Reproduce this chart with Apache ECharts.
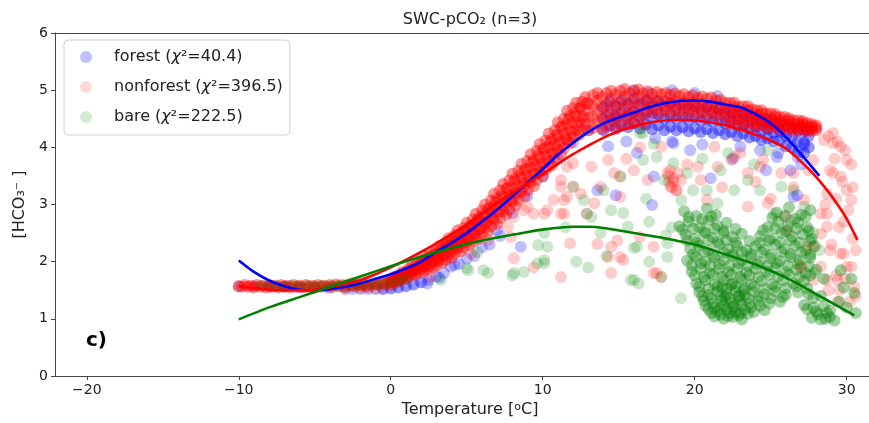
<!DOCTYPE html>
<html>
<head>
<meta charset="utf-8">
<script src="https://cdn.jsdelivr.net/npm/echarts@6/dist/echarts.min.js"></script>
<style>html,body{margin:0;padding:0;background:#fff;}#c{width:869px;height:423px;}</style>
</head>
<body>
<div id="c"></div>
<script>
// ---------- data ----------
const seriesNames = ['forest (χ²=40.4)', 'nonforest (χ²=396.5)', 'bare (χ²=222.5)'];
const xTicks = [-20, -10, 0, 10, 20, 30];
const yTicks = [0, 1, 2, 3, 4, 5, 6];

// forest: dense part of the cloud
const forestCore = [
[-0.5,1.52],[0,1.53],[0.5,1.55],[1,1.57],[1.5,1.6],[2,1.64],
[14,4.3],[14,4.5],[14,4.7],[14.4,4.38],[14.4,4.58],[14.4,4.8],[14.8,4.32],[14.8,4.52],[14.8,4.72],[15.2,4.4],[15.2,4.6],[15.2,4.82],
[15.6,4.35],[15.6,4.55],[15.6,4.75],[16,4.42],[16,4.62],[16,4.85],[16.4,4.33],[16.4,4.53],[16.4,4.75],[16.8,4.4],[16.8,4.6],[16.8,4.82],
[17.2,4.32],[17.2,4.52],[17.2,4.72],[17.6,4.38],[17.6,4.58],[17.6,4.8],[18,4.3],[18,4.5],[18,4.72],[18.4,4.36],[18.4,4.56],[18.4,4.78],
[18.8,4.3],[18.8,4.5],[18.8,4.7],[19.2,4.35],[19.2,4.55],[19.2,4.76],[19.6,4.28],[19.6,4.48],[19.6,4.68],[20,4.33],[20,4.53],[20,4.73],
[20.4,4.27],[20.4,4.47],[20.4,4.67],[20.8,4.32],[20.8,4.5],[20.8,4.7],[21.2,4.25],[21.2,4.45],[21.2,4.64],[21.6,4.3],[21.6,4.48],[21.6,4.66],
[22,4.23],[22,4.42],[22,4.6],[22.4,4.27],[22.4,4.45],[22.4,4.62],[22.8,4.2],[22.8,4.38],[22.8,4.56],[23.2,4.24],[23.2,4.4],[23.2,4.58],
[23.6,4.17],[23.6,4.34],[23.6,4.52],[24,4.2],[24,4.36],[24,4.52],[24.4,4.13],[24.4,4.3],[24.4,4.47],[24.8,4.16],[24.8,4.32],[24.8,4.47],
[25.2,4.1],[25.2,4.26],[25.2,4.42],[25.6,4.12],[25.6,4.27],[25.6,4.42],[26,4.02],[26,4.2],[26,4.38],[26.4,4.0],[26.4,4.18],[26.4,4.35],
[26.8,3.92],[26.8,4.1],[26.8,4.3],[27.2,3.9],[27.2,4.08],[27.2,4.28],[27.5,4.0],[27.5,4.2]
];
// forest: isolated / hidden points
const forestScatter = [
[-10,1.57],[-9,1.57],[-8,1.56],[-7,1.56],[-6,1.55],[-5,1.55],[-4,1.54],[-3,1.53],[-2.5,1.52],[-2,1.53],[-1.5,1.52],[-1,1.52],
[2.5,1.68],[3,1.74],[3.5,1.8],[4.5,1.96],[5,2.05],[6,2.25],[7,2.55],[8,2.85],[9,3.15],[10,3.48],[11,3.8],[12,4.08],[13,4.3],
[4.2,1.94],[3.95,1.91],[8.55,2.26],[13.6,3.25],[14.8,3.16],[14.3,4.02],[16.2,3.9],[17.4,4.16],[17.2,2.99],[17.3,3.49],[18.5,4.1],[18.6,4.07],[19.7,3.95],[21.05,3.46],[26.75,3.16],[26.5,3.13],[26.3,3.6],[26.75,3.83],[27.2,4.04],[23,4.01],[24.3,3.95],[25.4,3.83],[27,3.7],[24.7,3.6],[22.5,3.8],[25.5,3.9],[20.5,4.05],[15.5,4.1],[17,4.95],[18.5,5.0],[20,4.95],[21.5,4.9],[16,5.0],
[5.5,2.1],[6.5,2.3],[7.2,2.45],[3.2,1.72],[2.4,1.62]
];

// nonforest: dense part of the cloud
const nonforestCore = [
[-10,1.57],[-9.8,1.56],[-9.6,1.59],[-9.4,1.56],[-9.2,1.58],[-9,1.55],[-8.8,1.59],[-8.6,1.56],[-8.4,1.58],[-8.2,1.55],[-8,1.59],[-7.8,1.56],[-7.6,1.58],[-7.4,1.55],[-7.2,1.59],[-7,1.56],[-6.8,1.58],[-6.6,1.55],[-6.4,1.59],[-6.2,1.56],[-6,1.58],[-5.8,1.55],[-5.6,1.59],[-5.4,1.56],[-5.2,1.58],[-5,1.55],[-4.8,1.59],[-4.6,1.56],[-4.4,1.58],[-4.2,1.56],[-4,1.59],[-3.8,1.56],[-3.6,1.6],[-3.4,1.57],[-3.2,1.59],[-3,1.56],[-2.8,1.6],[-2.6,1.58],[-2.4,1.57],[-2.2,1.61],[-2,1.58],[-1.8,1.6],[-1.6,1.57],[-1.4,1.61],[-1.2,1.59],[-1,1.62],[-0.8,1.6],[-0.6,1.63],[-0.4,1.61],[-0.2,1.64],
[0,1.61],[0,1.65],[0,1.69],[0.2,1.64],[0.2,1.69],[0.2,1.73],[0.4,1.64],[0.4,1.68],[0.4,1.73],[0.6,1.67],[0.6,1.72],[0.6,1.78],[0.8,1.71],[0.8,1.77],[0.8,1.82],
[1,1.7],[1,1.76],[1,1.82],[1.2,1.74],[1.2,1.81],[1.2,1.88],[1.4,1.78],[1.4,1.86],[1.4,1.93],[1.6,1.77],[1.6,1.84],[1.6,1.92],[1.8,1.8],[1.8,1.89],[1.8,1.98],
[2,1.86],[2,1.95],[2,2.04],[2.2,1.83],[2.2,1.92],[2.2,2.02],[2.4,1.87],[2.4,1.98],[2.4,2.09],[2.6,1.93],[2.6,2.05],[2.6,2.16],[2.8,1.9],[2.8,2.0],[2.8,2.12],
[3,1.94],[3,2.07],[3,2.2],[3.2,2.02],[3.2,2.15],[3.2,2.28],[3.4,1.98],[3.4,2.11],[3.4,2.24],[3.6,2.03],[3.6,2.18],[3.6,2.33],[3.8,2.11],[3.8,2.27],[3.8,2.41],
[4,2.07],[4,2.21],[4,2.36],[4.2,2.14],[4.2,2.3],[4.2,2.46],[4.4,2.23],[4.4,2.39],[4.4,2.55],[4.6,2.18],[4.6,2.33],[4.6,2.49],[4.8,2.25],[4.8,2.42],[4.8,2.59],
[5,2.34],[5,2.51],[5,2.68],[5.2,2.29],[5.2,2.45],[5.2,2.62],[5.4,2.36],[5.4,2.55],[5.4,2.74],[5.6,2.46],[5.6,2.66],[5.6,2.84],[5.8,2.4],[5.8,2.57],[5.8,2.76],
[6,2.48],[6,2.69],[6,2.9],[6.2,2.59],[6.2,2.8],[6.2,3.0],[6.4,2.52],[6.4,2.72],[6.4,2.92],[6.6,2.62],[6.6,2.85],[6.6,3.07],[6.8,2.73],[6.8,2.97],[6.8,3.19],
[7,2.66],[7,2.87],[7,3.1],[7.2,2.76],[7.2,3.0],[7.2,3.25],[7.4,2.88],[7.4,3.13],[7.4,3.36],[7.6,2.82],[7.6,3.04],[7.6,3.27],[7.8,2.91],[7.8,3.16],[7.8,3.42],
[8,3.05],[8,3.3],[8,3.54],[8.2,2.98],[8.2,3.2],[8.2,3.44],[8.4,3.08],[8.4,3.33],[8.4,3.59],[8.6,3.22],[8.6,3.47],[8.6,3.71],[8.8,3.14],[8.8,3.36],[8.8,3.6],
[9,3.25],[9,3.5],[9,3.76],[9.2,3.39],[9.2,3.64],[9.2,3.88],[9.4,3.32],[9.4,3.54],[9.4,3.78],[9.6,3.43],[9.6,3.68],[9.6,3.94],[9.8,3.57],[9.8,3.82],[9.8,4.06],
[10,3.5],[10,3.72],[10,3.96],[10.2,3.61],[10.2,3.86],[10.2,4.12],[10.4,3.75],[10.4,4.0],[10.4,4.24],[10.6,3.68],[10.6,3.9],[10.6,4.14],[10.8,3.79],[10.8,4.04],[10.8,4.3],
[11,3.95],[11,4.2],[11,4.44],[11.2,3.88],[11.2,4.1],[11.2,4.35],[11.4,3.99],[11.4,4.24],[11.4,4.5],[11.6,4.14],[11.6,4.4],[11.6,4.64],[11.8,4.08],[11.8,4.3],[11.8,4.55],
[12,4.18],[12,4.43],[12,4.69],[12.2,4.3],[12.2,4.55],[12.2,4.78],[12.4,4.22],[12.4,4.44],[12.4,4.68],[12.6,4.3],[12.6,4.55],[12.6,4.8],[12.8,4.4],[12.8,4.65],[12.8,4.88],
[13,4.3],[13,4.52],[13,4.76],
[0.1,1.66],[0.3,1.69],[0.5,1.71],[0.7,1.74],[0.9,1.77],[1.1,1.8],[1.3,1.83],[1.5,1.86],[1.7,1.88],[1.9,1.91],
[2.1,2.0],[2.3,1.93],[2.5,2.07],[2.7,1.98],[2.9,2.13],[3.1,2.04],[3.3,2.21],[3.5,2.1],[3.7,2.29],[3.9,2.17],[4.1,2.37],[4.3,2.25],[4.5,2.45],[4.7,2.32],[4.9,2.54],
[5.1,2.41],[5.3,2.63],[5.5,2.49],[5.7,2.73],[5.9,2.58],[6.1,2.83],[6.3,2.67],[6.5,2.94],[6.7,2.76],[6.9,3.05],[7.1,2.87],[7.3,3.16],[7.5,2.98],[7.7,3.29],[7.9,3.08],
[8.1,3.4],[8.3,3.19],[8.5,3.51],[8.7,3.31],[8.9,3.62],[9.1,3.42],[9.3,3.74],[9.5,3.54],[9.7,3.86],[9.9,3.66],[10.1,3.98],[10.3,3.78],[10.5,4.1],[10.7,3.9],[10.9,4.22],
[11.1,4.05],[11.3,4.37],[11.5,4.17],[11.7,4.49],[11.9,4.27],[12.1,4.59],[12.3,4.39],[12.5,4.7],[12.7,4.49],[12.9,4.78],
[13.3,4.34],[13.3,4.53],[13.3,4.72],[13.3,4.91],[13.6,4.44],[13.6,4.63],[13.6,4.82],[13.6,4.95],[13.9,4.32],[13.9,4.5],[13.9,4.69],[13.9,4.88],
[14.2,4.36],[14.2,4.56],[14.2,4.75],[14.2,4.95],[14.5,4.48],[14.5,4.67],[14.5,4.86],[14.5,4.99],[14.8,4.37],[14.8,4.55],[14.8,4.74],[14.8,4.93],
[15.1,4.41],[15.1,4.6],[15.1,4.79],[15.1,4.99],[15.4,4.52],[15.4,4.7],[15.4,4.89],[15.4,5.02],[15.7,4.4],[15.7,4.57],[15.7,4.76],[15.7,4.95],
[16,4.43],[16,4.62],[16,4.8],[16,4.99],[16.3,4.53],[16.3,4.71],[16.3,4.89],[16.3,5.01],[16.6,4.41],[16.6,4.58],[16.6,4.76],[16.6,4.94],
[16.9,4.65],[16.9,4.83],[16.9,4.98],[17.2,4.6],[17.2,4.77],[17.2,4.93],[17.5,4.65],[17.5,4.82],[17.5,4.97],[17.8,4.6],[17.8,4.76],[17.8,4.93],
[18.1,4.66],[18.1,4.81],[18.1,4.95],[18.4,4.6],[18.4,4.76],[18.4,4.91],[18.7,4.65],[18.7,4.81],[18.7,4.94],[19,4.6],[19,4.75],[19,4.9],
[19.3,4.65],[19.3,4.79],[19.3,4.93],[19.6,4.59],[19.6,4.74],[19.6,4.88],[19.9,4.64],[19.9,4.78],[19.9,4.91],[20.2,4.58],[20.2,4.72],[20.2,4.86],
[20.5,4.62],[20.5,4.76],[20.5,4.89],[20.8,4.57],[20.8,4.71],[20.8,4.85],[21.1,4.6],[21.1,4.74],[21.1,4.87],[21.4,4.55],[21.4,4.68],[21.4,4.82],
[21.7,4.58],[21.7,4.71],[21.7,4.83],[22,4.53],[22,4.65],[22,4.78],
[22.3,4.41],[22.3,4.53],[22.3,4.66],[22.3,4.78],[22.6,4.47],[22.6,4.59],[22.6,4.7],[22.6,4.78],[22.9,4.38],[22.9,4.49],[22.9,4.6],[22.9,4.71],
[23.2,4.39],[23.2,4.5],[23.2,4.61],[23.2,4.72],[23.5,4.44],[23.5,4.55],[23.5,4.65],[23.5,4.72],[23.8,4.36],[23.8,4.46],[23.8,4.56],[23.8,4.66],
[24.1,4.37],[24.1,4.46],[24.1,4.56],[24.1,4.65],[24.4,4.4],[24.4,4.5],[24.4,4.59],[24.4,4.65],[24.7,4.34],[24.7,4.42],[24.7,4.5],[24.7,4.59],
[25,4.34],[25,4.42],[25,4.51],[25,4.59],[25.3,4.37],[25.3,4.45],[25.3,4.53],[25.3,4.58],[25.6,4.31],[25.6,4.38],[25.6,4.46],[25.6,4.53],
[25.9,4.31],[25.9,4.38],[25.9,4.46],[25.9,4.53],[26.2,4.33],[26.2,4.4],[26.2,4.47],[26.2,4.51],[26.5,4.29],[26.5,4.35],[26.5,4.41],[26.5,4.47],
[26.8,4.29],[26.8,4.35],[26.8,4.41],[26.8,4.47],[27.1,4.32],[27.1,4.37],[27.1,4.42],[27.1,4.46],[27.4,4.28],[27.4,4.32],[27.4,4.37],[27.4,4.42],
[27.7,4.29],[27.7,4.33],[27.7,4.37],[27.7,4.41],[28,4.3],[28,4.34],[28,4.38]
];
// nonforest: isolated points
const nonforestScatter = [
[-3,1.52],[-2.5,1.63],[-2,1.52],[-1.5,1.55],[-1,1.54],[-0.5,1.56],[0,1.57],
[2.6,1.73],[5.3,2.14],[6.4,2.38],[7.7,2.61],[7.9,2.43],[8.1,2.78],[8.1,2.06],[9,2.96],[9.4,2.84],[9.4,1.9],[10.1,2.84],[10.7,3.08],[11.4,2.84],[11.6,3.14],[11.2,3.31],[11.2,1.73],[11.8,2.32],[12,3.72],[8.75,2.9],[10.3,2.9],[11.4,3.08],[12.5,3.19],[13.4,3.02],[13.8,3.31],[13.2,3.66],[14.3,3.78],[14.7,3.55],[11.6,3.66],[11.2,3.43],
[16,3.6],[16.9,3.43],[17.8,4.01],[18.2,3.55],[18.4,3.31],[19.1,3.43],[18.6,3.45],[18.8,3.25],[18.3,3.4],[18.3,3.5],[18.6,3.4],[18.9,3.55],[18.5,3.3],[18.8,3.25],[18.4,3.6],
[20.2,3.66],[20.8,3.08],[21.3,4.01],[22.4,3.78],[23.5,3.55],[24.5,3.78],[25.7,3.55],[27.2,3.08],[28.3,2.84],[28.7,3.19],[29.1,3.55],[29.6,4.01],[30,3.78],[30.3,3.08],[28.7,2.61],[29.6,2.14],[30,1.91],[30.5,1.56],[28.3,1.91],[27.8,2.26],[28.7,1.68],[29.3,1.76],[28.5,4.13],[29.1,4.25],
[14.5,1.8],[15.1,2.08],[14.9,2.37],[13.6,2.31],[17.5,1.8],[17.3,2.26],[12.9,2.84],[15.1,3.49],[12,3.31],[16.4,4],[15.5,3.8],[19.5,3.7],[21.8,3.3],[23,3.9],[24,3.4],[25,3.1],[26,2.8],[26.5,3.3],[27.5,3.6],[29.8,2.7],[30.4,2.4],[29,2.3],[30.2,1.3],[29.5,1.5],[27,1.9],
[14.3,2.08],[15.1,3.13],[17.8,1.73],[20.4,3.43],[21.5,3.66],[22.6,3.83],[24.3,3.66],[24.8,3.02],[23.5,2.96],[26.5,3.55],[27.8,3.78],[29.1,4.07],[29.6,3.49],[30,3.25],[28.7,2.84],[29.8,2.14],[30.3,1.91],[29.4,1.68],[27.8,1.68],[27,1.91],[27.4,2.26],[28.3,2.49],[26.1,2.55],[11.2,2.84],[14.5,2.26],[16.4,2.43],[17.3,1.8],[15.3,2.03],
[28.8,4.2],[29.4,4.1],[29.9,3.95],[30.3,3.7],[29.2,3.8],[28.9,3.6],[29.7,3.4],[30.4,3.3],[29.3,3.1],[28.6,3.0],[30.1,2.9],[29.5,2.6],[30.6,2.2],[28.9,2.2],[29.9,1.7],[30.6,1.4],[29.4,1.3],[28.8,1.5]
];

// bare: dense part of the cloud
const bareCore = [
[19.3,2.88],[20.1,2.8],[20.8,2.93],[21.4,2.82],[25.4,2.86],[26.2,2.95],[27,2.82],[27.6,2.9],
[19,2.62],[19.6,2.7],[20.3,2.6],[20.9,2.72],[21.5,2.63],[22.1,2.68],[24.8,2.6],[25.5,2.7],[26.1,2.62],[26.8,2.68],[27.4,2.6],
[19.4,2.47],[20,2.4],[20.7,2.5],[21.2,2.42],[21.9,2.5],[22.5,2.43],[23.1,2.49],[24.3,2.45],[25,2.4],[25.7,2.5],[26.4,2.44],[27.1,2.48],[27.7,2.4],
[19.7,2.22],[20.3,2.28],[20.9,2.2],[21.6,2.3],[22.2,2.22],[22.8,2.28],[23.4,2.2],[24,2.27],[24.6,2.21],[25.3,2.3],[25.9,2.22],[26.6,2.28],[27.3,2.2],[27.9,2.27],
[19.5,2.02],[20.1,2.08],[20.7,2],[21.3,2.07],[21.9,2.02],[22.5,2.1],[23.1,2.03],[23.7,2.08],[24.3,2],[25,2.06],[25.6,2.01],[26.3,2.08],[26.9,2.02],[27.6,2.07],
[19.8,1.83],[20.4,1.88],[21,1.8],[21.6,1.87],[22.2,1.82],[22.8,1.88],[23.4,1.81],[24,1.87],[24.7,1.83],[25.3,1.89],[26,1.82],[26.7,1.86],[27.3,1.8],[28,1.86],
[20.1,1.62],[20.7,1.68],[21.3,1.6],[21.9,1.67],[22.5,1.62],[23.1,1.69],[23.7,1.61],[24.4,1.66],[25.1,1.6],[25.8,1.67],[26.5,1.62],[27.2,1.66],
[20.3,1.47],[20.9,1.42],[21.5,1.48],[22.1,1.43],[22.7,1.48],[23.3,1.42],[23.9,1.47],[24.6,1.43],[25.3,1.48],[26,1.42],[26.8,1.46],[27.5,1.43],
[20.6,1.32],[21.2,1.27],[21.8,1.33],[22.4,1.28],[23,1.32],[23.6,1.27],[24.2,1.31],[24.9,1.27],[25.6,1.3],
[20.9,1.17],[21.5,1.13],[22.1,1.17],[22.7,1.12],[23.3,1.16],[23.9,1.12],[24.6,1.15],[27.4,1.17],[28,1.13],
[21.3,1.04],[21.9,1],[22.5,1.03],[23.1,0.99],[27.7,1.02],[28.3,0.99],[28.9,1.03],
[22,1.38],[22.6,1.22],[23.2,1.5],[21.8,1.55],[22.4,1.6],[23,1.1],[22.2,1.05],[21.7,1.2],[22.9,1.4],
[28.6,1],[29.2,0.97],[28.9,1.15],[29.5,1.3],[30,1.2],[30.5,1.45],[29.8,1.55],[30.3,1.7],[29.6,1.85],[30.6,1.1],[28.3,1.4],[28.5,1.7],
[19.6,2.78],[20.5,2.74],[21.1,2.79],[25.1,2.77],[25.9,2.8],[26.6,2.75],[27.3,2.79],
[19.2,2.56],[19.9,2.58],[20.6,2.53],[21.3,2.58],[21.9,2.54],[22.7,2.57],[24.5,2.55],[25.3,2.58],[26,2.53],[26.7,2.58],[27.5,2.54],
[19.5,2.37],[20.2,2.33],[20.9,2.38],[21.5,2.34],[22.1,2.37],[22.7,2.33],[23.6,2.36],[24.3,2.33],[24.9,2.37],[25.6,2.34],[26.3,2.38],[26.9,2.33],[27.6,2.36],
[19.9,2.13],[20.6,2.17],[21.2,2.12],[21.9,2.16],[22.5,2.13],[23.1,2.17],[23.7,2.13],[24.4,2.16],[25,2.12],[25.7,2.17],[26.3,2.13],[27,2.16],[27.6,2.12],
[19.8,1.94],[20.4,1.97],[21,1.93],[21.6,1.96],[22.3,1.93],[22.9,1.97],[23.5,1.93],[24.1,1.96],[24.8,1.93],[25.4,1.97],[26.1,1.93],[26.8,1.96],[27.5,1.92],
[20,1.76],[20.6,1.73],[21.2,1.77],[21.8,1.74],[22.4,1.77],[23,1.73],[23.6,1.76],[24.2,1.73],[24.9,1.77],[25.5,1.74],[26.2,1.77],[26.9,1.73],[27.6,1.76],
[20.3,1.56],[20.9,1.53],[21.5,1.57],[22.1,1.53],[22.7,1.56],[23.3,1.54],[23.9,1.57],[24.6,1.53],[25.3,1.56],[26,1.54],[26.7,1.57],[27.4,1.53],
[20.5,1.39],[21.1,1.36],[21.7,1.4],[22.3,1.36],[22.9,1.39],[23.5,1.36],[24.2,1.39],[25,1.36],[25.8,1.38],[27.8,1.36],
[20.7,1.23],[21.3,1.2],[21.9,1.24],[22.5,1.21],[23.1,1.24],[23.7,1.2],[24.3,1.23],[27.2,1.24],[27.8,1.2],[28.5,1.22],
[21.1,1.1],[21.7,1.07],[22.3,1.1],[22.9,1.06],[23.5,1.09],[28.1,1.08],[28.7,1.1]
];
// bare: isolated points
const bareScatter = [
[-8.5,1.58],[-8,1.57],[-7.5,1.58],[-7,1.57],[-6.5,1.58],[-6,1.57],[-5.5,1.58],[-5,1.57],[-4.5,1.58],[-4,1.57],[-3.5,1.58],[-3,1.58],[-2.5,1.59],[-2,1.59],[-1.5,1.6],[-1,1.61],[-0.5,1.62],[0,1.64],[0.5,1.66],[1,1.7],
[3.3,1.68],[5,1.89],[5.1,1.85],[5.7,2.17],[6.1,1.85],[6.4,1.8],[8,1.76],[8.1,1.8],[8.75,1.82],[9.65,1.97],[9.7,2.29],[10.1,1.97],[10.1,2.03],[10.1,2.5],[10.3,2.26],[12.9,2.84],[12,3.31],[15.1,3.49],[13.2,2.78],[15.3,2.85],[16,2.24],[16,1.68],[16.3,1.62],[15.8,1.68],[18.2,2.32],[18.1,2.46],[19.1,1.36],[16.4,4.25],[17.3,4.06],[16.6,4.25],
[12.7,3.08],[14,3.25],[15.6,2.61],[16.2,2.26],[18.2,2.08],[17.8,1.73],[14.5,2.9],[13.8,2.5],[17,2.7],[16.8,3.1],[11.5,2.6],[12.2,2],[13,1.9],[14.2,2.1],[17,2],[18.5,2.6],
[19.5,3.55],[19.9,3.25],[19.1,3.08],[20.8,3.25],[21.5,3.02],[22.6,3.25],[23.5,3.43],[24.3,3.25],[25.7,3.31],[26.5,3.25],[25.2,2.84],[26.3,2.72],[27.2,2.96],[18.6,3.72],[18,3.43],[17.5,3.83],[16.6,3.78],[20.5,3.8],[21.7,3.6],[22.2,3.9],[23.9,3.7],[24.8,3.95],[27.8,2.5],[28.2,2.2],[27.9,1.8]
];

// fitted curves
const forestFit = [[-10,2.02],[-9,1.82],[-8,1.67],[-7,1.57],[-6,1.51],[-5,1.5],[-4,1.52],[-3,1.56],[-2,1.62],[-1,1.7],[0,1.78],[1,1.88],[2,2.0],[3,2.17],[4,2.33],[5,2.5],[6,2.7],[7,2.91],[8,3.14],[9,3.38],[10,3.62],[11,3.87],[12,4.08],[13,4.27],[14,4.42],[15,4.52],[16,4.61],[17,4.7],[18,4.77],[19,4.81],[20,4.82],[21,4.8],[22,4.75],[23,4.7],[24,4.58],[25,4.42],[26,4.18],[27,3.88],[28.2,3.5]];
const nonforestFit = [[-10,1.57],[-9,1.54],[-8,1.51],[-7,1.5],[-6,1.5],[-5,1.51],[-4,1.55],[-3,1.61],[-2,1.68],[-1,1.78],[0,1.9],[1,2.03],[2,2.17],[3,2.32],[4,2.48],[5,2.65],[6,2.84],[7,3.03],[8,3.2],[9,3.37],[10,3.53],[11,3.71],[12,3.88],[13,4.03],[14,4.17],[15,4.28],[16,4.37],[17,4.43],[18,4.47],[19,4.48],[20,4.47],[21,4.44],[22,4.39],[23,4.31],[24,4.22],[25,4.12],[26,3.98],[27,3.75],[28,3.48],[29,3.15],[30,2.75],[30.7,2.38]];
const bareFit = [[-10,0.99],[-8,1.2],[-6,1.38],[-4,1.56],[-2,1.74],[0,1.92],[2,2.09],[4,2.24],[6,2.37],[8,2.47],[10,2.56],[12,2.61],[13,2.61],[14,2.59],[16,2.5],[18,2.41],[20,2.3],[22,2.13],[24,1.95],[26,1.72],[28,1.43],[30.5,1.06]];

// ---------- chart ----------
const FONT = '"DejaVu Sans", sans-serif';
const INK = '#222';
const XMIN = -22.09, XMAX = 32.52;
const chart = echarts.init(document.getElementById('c'), null, {renderer: 'canvas'});

function scatter(name, data, color, opacity, z) {
  return {type: 'scatter', name: name, data: data, symbol: 'circle', symbolSize: 12, z: z,
    itemStyle: {color: color, opacity: opacity, borderWidth: 0}, emphasis: {disabled: true}, silent: true};
}
function fit(name, data, color) {
  return {type: 'line', name: name, data: data, showSymbol: false, smooth: 0.25, z: 10,
    lineStyle: {color: color, width: 2.6}, itemStyle: {color: color}, emphasis: {disabled: true}, silent: true};
}

const option = {
  animation: false,
  backgroundColor: '#fff',
  textStyle: {fontFamily: FONT},
  grid: {left: 55, width: 830, top: 33, bottom: 47, containLabel: false, outerBoundsMode: 'none'},
  xAxis: [{
    type: 'value', min: XMIN, max: XMAX,
    name: 'Temperature [{s|o}C]', nameLocation: 'middle', nameGap: 26,
    nameTextStyle: {fontSize: 16, color: INK, fontFamily: FONT,
      rich: {s: {fontSize: 11, color: INK, fontFamily: FONT, verticalAlign: 'top', lineHeight: 11}}},
    axisLine: {show: true, onZero: false, lineStyle: {color: '#444', width: 1}},
    axisTick: {show: true, length: 4, customValues: xTicks, lineStyle: {color: '#444'}},
    axisLabel: {customValues: xTicks, fontSize: 14, color: INK, fontFamily: FONT, margin: 7,
      formatter: v => String(v).replace('-', '\u2212')},
    splitLine: {show: false}
  }, {
    type: 'value', min: XMIN, max: XMAX, position: 'top',
    axisLine: {show: true, onZero: false, lineStyle: {color: '#444', width: 1}},
    axisTick: {show: false}, axisLabel: {show: false}, splitLine: {show: false}
  }],
  yAxis: {
    type: 'value', min: 0, max: 6, interval: 1,
    name: '[HCO\u2083\u207B ]', nameLocation: 'middle', nameGap: 25, nameRotate: 90,
    nameTextStyle: {fontSize: 16, color: INK, fontFamily: FONT},
    axisLine: {show: true, onZero: false, lineStyle: {color: '#444', width: 1}},
    axisTick: {show: true, length: 4, customValues: yTicks, lineStyle: {color: '#444'}},
    axisLabel: {customValues: yTicks, fontSize: 14, color: INK, fontFamily: FONT, margin: 7},
    splitLine: {show: false}
  },
  legend: {
    orient: 'vertical', left: 64, top: 40,
    padding: [7, 7, 8, 16], itemGap: 10, itemWidth: 12, itemHeight: 12,
    backgroundColor: 'rgba(255,255,255,0.85)', borderColor: '#d0d0d0', borderWidth: 1, borderRadius: 4,
    selectedMode: false,
    data: [
      {name: seriesNames[0], icon: 'circle', itemStyle: {color: '#0000ff', opacity: 0.25}},
      {name: seriesNames[1], icon: 'circle', itemStyle: {color: '#ff0000', opacity: 0.15}},
      {name: seriesNames[2], icon: 'circle', itemStyle: {color: '#008000', opacity: 0.17}}
    ],
    formatter: n => n.replace('χ', '{i|χ}'),
    textStyle: {fontSize: 16, color: INK, fontFamily: FONT, lineHeight: 20, padding: [0, 0, 0, 17],
      rich: {i: {fontSize: 16, fontStyle: 'italic', color: INK, fontFamily: FONT}}}
  },
  graphic: [
    {type: 'text', x: 470, y: 20, silent: true,
      style: {text: 'SWC-pCO\u2082 (n=3)', font: '16px ' + FONT, fill: INK, align: 'center', verticalAlign: 'middle'}},
    {type: 'text', x: 86, y: 341, silent: true,
      style: {text: 'c)', font: 'bold 20px ' + FONT, fill: '#000', align: 'left', verticalAlign: 'middle'}}
  ],
  series: [
    scatter(seriesNames[0], forestScatter, '#0000ff', 0.25, 1),
    scatter(seriesNames[0], forestCore, '#0000ff', 0.42, 1),
    scatter(seriesNames[1], nonforestScatter, '#ff0000', 0.2, 2),
    scatter(seriesNames[1], nonforestCore, '#ff0000', 0.42, 2),
    scatter(seriesNames[2], bareScatter, '#008000', 0.2, 3),
    scatter(seriesNames[2], bareCore, '#008000', 0.37, 3),
    fit('forest fit', forestFit, '#0000ff'),
    fit('nonforest fit', nonforestFit, '#ff0000'),
    fit('bare fit', bareFit, '#008000')
  ]
};
chart.setOption(option);
</script>
</body>
</html>
